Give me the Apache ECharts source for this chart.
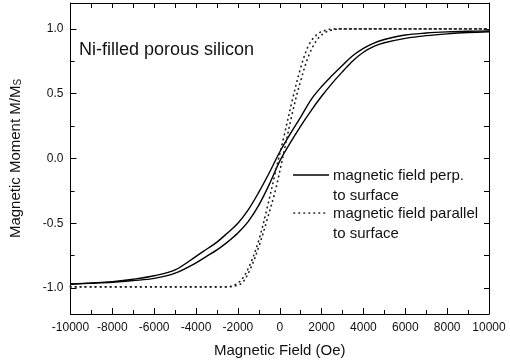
<!DOCTYPE html>
<html>
<head>
<meta charset="utf-8">
<script src="https://cdn.jsdelivr.net/npm/echarts@6/dist/echarts.min.js"></script>
<style>
    html, body { margin: 0; padding: 0; background: #fff; }
    #chart { width: 510px; height: 363px; }
</style>
</head>
<body>
<div id="chart"></div>
<script>
// field values (Oe) for the perpendicular loop branches
var perpField = [-10000, -9000, -8000, -7000, -6000, -5000, -4000, -3500, -3000, -2500, -2000, -1500, -1000, -500, 0,
    500, 1000, 1500, 2000, 2500, 3000, 3500, 4000, 4500, 5000, 6000, 7000, 8000, 9000, 10000]
// ascending branch (field going up), lower curve
var perpUp = [-0.97, -0.963, -0.955, -0.942, -0.925, -0.885, -0.805, -0.755, -0.705, -0.645, -0.575, -0.485, -0.36, -0.20, -0.02,
    0.12, 0.25, 0.37, 0.48, 0.58, 0.67, 0.755, 0.82, 0.865, 0.893, 0.927, 0.948, 0.962, 0.972, 0.978]
// descending branch, upper curve
var perpDown = [-0.968, -0.96, -0.95, -0.932, -0.905, -0.86, -0.755, -0.70, -0.645, -0.575, -0.50, -0.395, -0.26, -0.11, 0.05,
    0.19, 0.32, 0.455, 0.555, 0.64, 0.72, 0.795, 0.85, 0.89, 0.918, 0.953, 0.968, 0.977, 0.982, 0.985]

// parallel loop
var paraField = [-10000, -6000, -3000, -2600, -2200, -1800, -1400, -1000, -600, -200, 200, 600, 1000, 1400, 1800,
    2200, 2600, 3000, 6000, 10000]
var paraUp = [-0.99, -0.99, -0.99, -0.99, -0.985, -0.96, -0.85, -0.68, -0.47, -0.24, 0.05, 0.35, 0.60, 0.80, 0.92,
    0.975, 0.995, 1.0, 1.0, 1.0]
var paraDown = [-0.99, -0.99, -0.99, -0.99, -0.98, -0.93, -0.81, -0.63, -0.38, -0.10, 0.17, 0.45, 0.70, 0.88, 0.96,
    0.99, 1.0, 1.0, 1.0, 1.0]

var yLabels = [-1, -0.5, 0, 0.5, 1]
var yMinor = [-0.75, -0.25, 0.25, 0.75]
var yRight = [-1, -0.75, -0.5, -0.25, 0, 0.25, 0.5, 0.75, 1]

var font = 'Liberation Sans, Arial, sans-serif'

function zip(xs, ys) {
    return xs.map(function(x, i) { return [x, ys[i]] })
}

var chart = echarts.init(document.getElementById('chart'))

var axisLine = { show: true, onZero: false, lineStyle: { color: '#000', width: 1 } }

function lineSeries(data, dotted) {
    return {
        type: 'line',
        xAxisIndex: 0,
        yAxisIndex: 0,
        data: data,
        smooth: 0.35,
        showSymbol: false,
        silent: true,
        animation: false,
        lineStyle: dotted
            ? { color: '#222', width: 1.7, type: [0.5, 4.5], cap: 'round' }
            : { color: '#000', width: 1.4 }
    }
}

var options = {
    animation: false,
    grid: { left: 65, right: 21, top: 3, bottom: 48 },
    xAxis: [{
        type: 'value',
        position: 'bottom',
        min: -10000,
        max: 10000,
        interval: 2000,
        axisLine: axisLine,
        axisTick: { inside: true, length: 6, lineStyle: { color: '#000' } },
        minorTick: { show: true, splitNumber: 2, length: 4, lineStyle: { color: '#000' } },
        axisLabel: {
            color: '#111', fontSize: 12, fontFamily: font, margin: 8,
            formatter: function(v) { return String(v) }
        },
        splitLine: { show: false },
        name: 'Magnetic Field (Oe)',
        nameLocation: 'middle',
        nameGap: 29,
        nameTextStyle: { color: '#111', fontSize: 15, fontFamily: font }
    }, {
        type: 'value',
        position: 'top',
        min: -10000,
        max: 10000,
        interval: 1000,
        axisLine: axisLine,
        axisTick: { inside: true, length: 5, lineStyle: { color: '#000' } },
        axisLabel: { show: false },
        splitLine: { show: false }
    }],
    yAxis: [{
        type: 'value',
        position: 'left',
        min: -1.2,
        max: 1.2,
        axisLine: axisLine,
        axisTick: { inside: true, length: 6, customValues: yLabels, lineStyle: { color: '#000' } },
        axisLabel: {
            color: '#111', fontSize: 12, fontFamily: font, margin: 7,
            customValues: yLabels,
            formatter: function(v) { return v.toFixed(1) }
        },
        splitLine: { show: false },
        name: '{a|Magnetic Moment M/M}{s|S}',
        nameLocation: 'middle',
        nameGap: 47,
        nameTextStyle: {
            color: '#111', fontSize: 15, fontFamily: font,
            rich: {
                a: { fontSize: 15, fontFamily: font, color: '#111' },
                s: { fontSize: 10, fontFamily: font, color: '#111', verticalAlign: 'bottom', padding: [6, 0, 0, 0] }
            }
        }
    }, {
        type: 'value',
        position: 'left',
        min: -1.2,
        max: 1.2,
        axisLine: { show: false, onZero: false },
        axisTick: { inside: true, length: 4, customValues: yMinor, lineStyle: { color: '#000' } },
        axisLabel: { show: false },
        splitLine: { show: false }
    }, {
        type: 'value',
        position: 'right',
        min: -1.2,
        max: 1.2,
        axisLine: axisLine,
        axisTick: { inside: true, length: 5, customValues: yRight, lineStyle: { color: '#000' } },
        axisLabel: { show: false },
        splitLine: { show: false }
    }],
    series: [
        lineSeries(zip(perpField, perpUp), false),
        lineSeries(zip(perpField, perpDown), false),
        lineSeries(zip(paraField, paraUp), true),
        lineSeries(zip(paraField, paraDown), true)
    ],
    graphic: [
        { type: 'text', left: 79, top: 41, style: { text: 'Ni-filled porous silicon', font: '18px ' + font, fill: '#111' } },
        { type: 'line', shape: { x1: 293, y1: 175, x2: 329, y2: 175 }, style: { stroke: '#000', lineWidth: 1.4 } },
        { type: 'line', shape: { x1: 294, y1: 213, x2: 329, y2: 213 }, style: { stroke: '#222', lineWidth: 1.7, lineDash: [0.5, 4.5], lineCap: 'round' } },
        { type: 'text', left: 333, top: 166, style: { text: 'magnetic field perp.\nto surface', font: '15px ' + font, fill: '#111', lineHeight: 20 } },
        { type: 'text', left: 333, top: 204, style: { text: 'magnetic field parallel\nto surface', font: '15px ' + font, fill: '#111', lineHeight: 20 } }
    ]
}

chart.setOption(options)
</script>
</body>
</html>
